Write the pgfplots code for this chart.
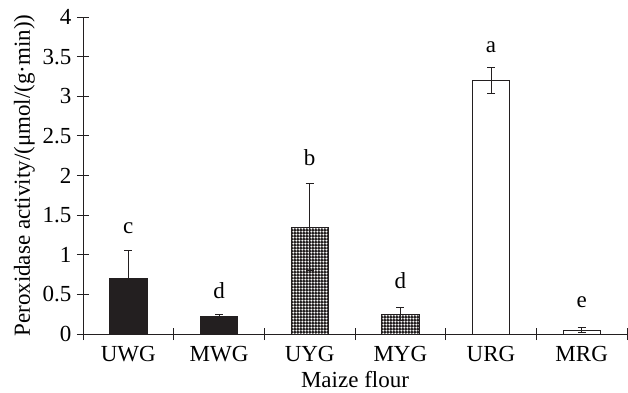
\documentclass[border=0pt]{standalone}
\usepackage{pgfplots}
\pgfplotsset{compat=1.18}
\usepackage{fontspec}
\setmainfont{Liberation Serif}
\usetikzlibrary{patterns}
\definecolor{ink}{HTML}{231F20}
\pgfdeclarepatternformonly{finegrid}{\pgfpointorigin}{\pgfpoint{3.2bp}{3.2bp}}{\pgfpoint{3.2bp}{3.2bp}}{%
  \pgfpathrectangle{\pgfpointorigin}{\pgfpoint{3.2bp}{1.9bp}}%
  \pgfpathrectangle{\pgfpointorigin}{\pgfpoint{1.9bp}{3.2bp}}%
  \pgfusepath{fill}}
\pgfplotstableread{
x y e
0 0.70 0.35
1 0.22 0.03
}\blackdata
\pgfplotstableread{
x y e
2 1.35 0.55
3 0.25 0.08
}\griddata
\pgfplotstableread{
x y e
4 3.20 0.17
5 0.05 0.03
}\whitedata
\begin{document}
\begin{tikzpicture}[font=\fontsize{23bp}{27bp}\selectfont]
\begin{axis}[
  scale only axis, width=544bp, height=317bp,
  xmin=-0.5, xmax=5.5, ymin=0, ymax=4,
  axis x line=bottom, axis y line=left,
  axis line style={-, line width=0.9bp, draw=ink},
  xtick={0,...,5}, xticklabels={UWG,MWG,UYG,MYG,URG,MRG},
  major x tick style={draw=none},
  minor xtick={-0.5,0.5,...,5.5},
  minor x tick style={draw=ink, line width=0.8bp},
  minor tick length=12bp,
  ytick={0,0.5,...,4},
  y tick style={draw=ink, line width=0.8bp},
  major tick length=12bp, tick align=center,
  /pgf/number format/assume math mode=true,
  yticklabel style={xshift=-2bp},
  xticklabel style={anchor=base, yshift=-21bp},
  xlabel={Maize flour},
  ylabel={Peroxidase activity/(μmol/(g·min))},
  xlabel style={at={(axis description cs:0.5,0)}, anchor=base, yshift=-53.5bp},
  ylabel style={at={(axis description cs:0,0.5)}, anchor=base, yshift=53bp},
  error bars/y dir=both, error bars/y explicit,
  error bars/error bar style={line width=0.8bp, draw=ink},
  error bars/error mark options={rotate=90, mark size=4bp, line width=0.8bp, draw=ink},
  clip=false,
]
\addplot[ybar, bar width=0.41, draw=ink, fill=ink, line width=0.8bp]
  table[x=x, y=y, y error=e] {\blackdata};
\addplot[ybar, bar width=0.41, draw=ink, fill=white, line width=0.8bp,
  postaction={pattern=finegrid, pattern color=ink}]
  table[x=x, y=y, y error=e] {\griddata};
\addplot[ybar, bar width=0.41, draw=ink, fill=white, line width=0.8bp]
  table[x=x, y=y, y error=e] {\whitedata};
\node[anchor=base] at (axis cs:0,1.27) {c};
\node[anchor=base] at (axis cs:1,0.45) {d};
\node[anchor=base] at (axis cs:2,2.13) {b};
\node[anchor=base] at (axis cs:3,0.58) {d};
\node[anchor=base] at (axis cs:4,3.55) {a};
\node[anchor=base] at (axis cs:5,0.34) {e};
\coordinate (SW) at (rel axis cs:0,0);
\coordinate (NE) at (rel axis cs:1,1);
\end{axis}
\pgfresetboundingbox
\path ([xshift=-83bp,yshift=-59bp]SW) rectangle ([xshift=1bp,yshift=17bp]NE);
\end{tikzpicture}
\end{document}
